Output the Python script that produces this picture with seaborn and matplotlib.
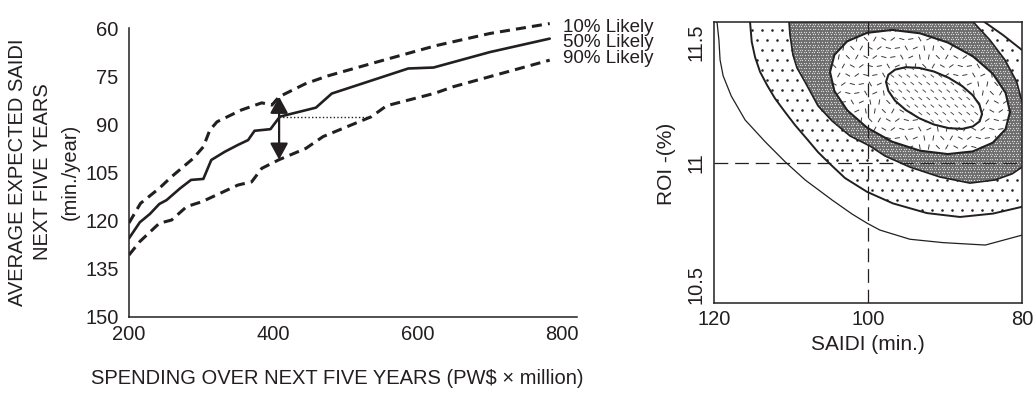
import numpy as np
import matplotlib
matplotlib.use("Agg")
import matplotlib.pyplot as plt
import seaborn as sns
from matplotlib.patches import Polygon
from matplotlib.collections import LineCollection
from matplotlib.transforms import Affine2D

# ---------------- Left panel: expected SAIDI versus spending ----------------
spend_10 = [200, 216, 242, 259, 289, 303, 312, 322, 356, 384, 398, 408, 444, 474, 548, 625, 700, 783]
saidi_10 = [120.7, 114.6, 109.9, 106.3, 100.6, 97.0, 91.8, 89.2, 85.5, 83.3, 84.0, 81.4, 77.4, 75.0, 70.3, 65.5, 61.7, 58.6]

spend_50 = [200, 215, 229, 242, 252, 271, 286, 303, 314, 333, 351, 365, 374, 396, 409, 459, 481, 587, 622, 700, 783]
saidi_50 = [125.5, 120.5, 117.9, 114.8, 113.6, 109.9, 107.3, 107.0, 101.1, 98.5, 96.4, 94.9, 92.0, 91.5, 87.6, 84.8, 80.4, 72.6, 72.3, 67.5, 63.3]

spend_90 = [200, 215, 242, 259, 280, 301, 351, 370, 384, 408, 445, 469, 536, 557, 624, 649, 783]
saidi_90 = [130.7, 126.5, 120.8, 119.8, 115.6, 114.1, 108.9, 107.9, 103.7, 101.0, 97.5, 93.8, 87.6, 84.2, 80.3, 78.3, 70.0]

likely_labels = ["10% Likely", "50% Likely", "90% Likely"]
likely_label_y = [61.15, 65.8, 71.0]
label_x = 801

spend_ticks = [200, 400, 600, 800]
saidi_ticks = [60, 75, 90, 105, 120, 135, 150]

# spread between the 10% and 90% curves at one spending level
arrow_spend = 408
arrow_top, arrow_bottom = 81.4, 101.0
# equal-SAIDI guide from the 50% curve over to the 90% curve
guide_level = 87.6
guide_end = 536

# ---------------- Right panel: ROI / SAIDI probability contours ----------------
saidi_range = (120, 80)
roi_range = (10.4215, 11.584)
roi_ticks = [10.5, 11, 11.5]
roi_tick_labels = ["10.5", "11", "11.5"]
saidi_ticks_r = [120, 100, 80]
target_saidi = 100
target_roi = 11.0

# outermost contour (open line)
cA_saidi = [119.7, 119.65, 119.4, 119.25, 118.85, 117.8, 116.0, 113.4, 110.8, 108.2, 104.7, 102.1, 100.2, 98.5, 94.6, 90.3, 84.8, 79.8]
cA_roi = [11.61, 11.584, 11.508, 11.426, 11.36, 11.277, 11.178, 11.088, 11.005, 10.93, 10.847, 10.789, 10.752, 10.723, 10.685, 10.671, 10.661, 10.704]

# dotted band outer boundary
cB_saidi = [115.49, 115.36, 115.14, 114.71, 114.06, 113.15, 112.12, 110.82, 109.52, 107.96, 106.53, 104.97, 103.03, 100.17,
            96.79, 92.38, 88.09, 83.81, 80.04, 77.70, 77.70, 80.04, 82.51, 84.97, 86.14]
cB_roi = [11.632, 11.584, 11.501, 11.438, 11.377, 11.322, 11.267, 11.211, 11.157, 11.099, 11.045, 10.996, 10.938, 10.881,
          10.833, 10.793, 10.777, 10.791, 10.819, 10.888, 11.550, 11.467, 11.529, 11.584, 11.632]

# shaded band outer boundary
cC_saidi = [110.43, 110.30, 110.17, 109.78, 109.26, 108.22, 106.53, 104.71, 102.38, 99.78, 97.83, 94.58, 90.68, 86.79,
            83.54, 81.33, 80.04, 77.70, 77.70, 80.04, 80.73, 82.25, 84.20, 86.40, 87.44]
cC_roi = [11.632, 11.584, 11.529, 11.446, 11.393, 11.335, 11.236, 11.174, 11.112, 11.070, 11.029, 10.983, 10.942, 10.917,
          10.930, 10.955, 10.983, 11.054, 11.302, 11.253, 11.336, 11.426, 11.508, 11.584, 11.632]

# inner ellipse-like contours
cD_saidi = [81.60, 82.17, 83.83, 86.42, 89.68, 93.29, 96.90, 100.16, 102.74, 104.40, 104.97, 104.40, 102.74, 100.16,
            96.90, 93.29, 89.68, 86.42, 83.83, 82.17]
cD_roi = [11.211, 11.140, 11.084, 11.048, 11.037, 11.051, 11.088, 11.146, 11.218, 11.297, 11.376, 11.447, 11.503, 11.538,
          11.550, 11.536, 11.498, 11.441, 11.369, 11.290]

cE_saidi = [85.23, 85.55, 86.43, 87.81, 89.55, 91.47, 93.39, 95.13, 96.51, 97.39, 97.70, 97.39, 96.51, 95.13,
            93.39, 91.47, 89.55, 87.81, 86.43, 85.55]
cE_roi = [11.202, 11.172, 11.151, 11.141, 11.144, 11.159, 11.185, 11.219, 11.257, 11.298, 11.335, 11.365, 11.386, 11.396,
          11.393, 11.378, 11.352, 11.318, 11.280, 11.240]

# ---------------------------------------------------------------------------
ink = "#231f20"
sns.set_style("white")
plt.rcParams["font.family"] = ["Liberation Sans", "DejaVu Sans"]
plt.rcParams["text.color"] = ink
plt.rcParams["xtick.color"] = ink
plt.rcParams["ytick.color"] = ink

W, H = 1036, 393
fig = plt.figure(figsize=(W / 100, H / 100), dpi=100)

# ---- left panel ----
ax1 = fig.add_axes([129 / W, 76 / H, 448 / W, (317 - 18.4) / H])
dash = (0, (3.3, 2.0))
sns.lineplot(x=spend_10, y=saidi_10, ax=ax1, color=ink, lw=2.2, linestyle=dash, estimator=None)
sns.lineplot(x=spend_50, y=saidi_50, ax=ax1, color=ink, lw=1.9, estimator=None)
sns.lineplot(x=spend_90, y=saidi_90, ax=ax1, color=ink, lw=2.2, linestyle=dash, estimator=None)

ax1.plot([arrow_spend, guide_end], [guide_level, guide_level], color=ink, lw=1.0, linestyle=(0, (1, 1.6)))
ax1.annotate("", xy=(arrow_spend, arrow_top), xytext=(arrow_spend, arrow_bottom),
             arrowprops=dict(arrowstyle="<|-|>,head_length=0.55,head_width=0.3", lw=1.6, color=ink,
                             mutation_scale=18, shrinkA=0, shrinkB=0))

for txt, yv in zip(likely_labels, likely_label_y):
    ax1.text(label_x, yv, txt, fontsize=13.5, va="baseline", ha="left", clip_on=False)

ax1.set_xlim(200, 820.8)
ax1.set_ylim(150, 57)
ax1.set_xticks(spend_ticks)
ax1.set_yticks(saidi_ticks)
ax1.tick_params(axis="both", length=0, labelsize=14.5)
ax1.tick_params(axis="y", pad=7.5)
ax1.tick_params(axis="x", pad=6)
sns.despine(ax=ax1)
ax1.spines["left"].set_bounds(60, 150)
for s in ("left", "bottom"):
    ax1.spines[s].set_linewidth(1.1)
    ax1.spines[s].set_color(ink)
ax1.set_xlabel("")
ax1.set_ylabel("")

fig.text(337 / W, 1 - 379 / H, "SPENDING OVER NEXT FIVE YEARS (PW$ \u00d7 million)",
         ha="center", va="center", fontsize=14.5)
for xc, line in zip([18, 43, 70], ["AVERAGE EXPECTED SAIDI", "NEXT FIVE YEARS", "(min./year)"]):
    fig.text(xc / W, 1 - 172 / H, line, rotation=90, ha="center", va="center", fontsize=14.5)

# ---- right panel ----
ax_w, ax_h = 308.0, 281.3
ax2 = fig.add_axes([714.3 / W, (H - 303) / H, ax_w / W, ax_h / H])
ax2.set_xlim(*saidi_range)
ax2.set_ylim(*roi_range)

px_axes = Affine2D().scale(1 / ax_w, 1 / ax_h) + ax2.transAxes


def region(xs, ys, face, z):
    p = Polygon(np.column_stack([xs, ys]), closed=True, facecolor=face, edgecolor="none", zorder=z)
    ax2.add_patch(p)
    return p


def dot_grid(step, off_x, stagger):
    pts = []
    for k, yy in enumerate(np.arange(off_x, ax_h, step)):
        off = stagger if k % 2 else 0.0
        for xx in np.arange(off_x + off, ax_w, step):
            pts.append((xx, yy))
    return np.array(pts)


pB = region(cB_saidi, cB_roi, "white", 1.0)

# dotted texture
dot_pts = dot_grid(10.0, 3.0, 5.0)
dots = ax2.scatter(dot_pts[:, 0], dot_pts[:, 1], s=3.4, color=ink, linewidths=0,
                   transform=px_axes, zorder=1.1)
dots.set_clip_path(pB)

# stippled band: dark base with fine light speckle
pC = region(cC_saidi, cC_roi, "#6c6c6c", 1.2)
speck_pts = dot_grid(2.6, 1.0, 1.3)
speck = ax2.scatter(speck_pts[:, 0], speck_pts[:, 1], s=0.9, color="#d8d8d8", linewidths=0,
                    transform=px_axes, zorder=1.3)
speck.set_clip_path(pC)

pD = region(cD_saidi, cD_roi, "white", 1.4)

# short dashes of varying direction
angles = np.deg2rad([35, 120, 80, 150, 10, 100, 60, 165, 25, 135])
segs = []
for i, yy in enumerate(np.arange(3, ax_h, 9.0)):
    for j, xx in enumerate(np.arange(3 + (4.5 if i % 2 else 0), ax_w, 9.0)):
        a = angles[(3 * i + 7 * j) % len(angles)]
        dx, dy = 2.6 * np.cos(a), 2.6 * np.sin(a)
        segs.append([(xx - dx, yy - dy), (xx + dx, yy + dy)])
dash_lc = LineCollection(segs, colors="#3a3a3a", linewidths=0.7, transform=px_axes, zorder=1.5)
ax2.add_collection(dash_lc)
dash_lc.set_clip_path(pD)

pE = region(cE_saidi, cE_roi, "white", 1.6)
segs_e = []
a = np.deg2rad(-40)
for i, yy in enumerate(np.arange(2, ax_h, 7.5)):
    for j, xx in enumerate(np.arange(2 + (4.0 if i % 2 else 0), ax_w, 8.0)):
        dx, dy = 2.2 * np.cos(a), 2.2 * np.sin(a)
        segs_e.append([(xx - dx, yy - dy), (xx + dx, yy + dy)])
e_lc = LineCollection(segs_e, colors="#4a4a4a", linewidths=0.65, transform=px_axes, zorder=1.7)
ax2.add_collection(e_lc)
e_lc.set_clip_path(pE)

# contour outlines
ax2.plot(cA_saidi, cA_roi, color=ink, lw=0.9, zorder=2)
ax2.plot(cB_saidi + cB_saidi[:1], cB_roi + cB_roi[:1], color=ink, lw=1.4, zorder=2)
ax2.plot(cC_saidi + cC_saidi[:1], cC_roi + cC_roi[:1], color=ink, lw=1.2, zorder=2)
ax2.plot(cD_saidi + cD_saidi[:1], cD_roi + cD_roi[:1], color=ink, lw=1.5, zorder=2)
ax2.plot(cE_saidi + cE_saidi[:1], cE_roi + cE_roi[:1], color=ink, lw=1.5, zorder=2)

# target crosshair
cross = (0, (11, 5.5))
ax2.axvline(target_saidi, color=ink, lw=0.9, linestyle=cross, zorder=2.5)
ax2.axhline(target_roi, color=ink, lw=0.9, linestyle=cross, zorder=2.5)

ax2.set_xticks(saidi_ticks_r)
ax2.set_yticks(roi_ticks)
ax2.set_yticklabels(roi_tick_labels, rotation=90, va="center")
ax2.tick_params(axis="both", length=0, labelsize=14.5)
ax2.tick_params(axis="y", pad=6)
ax2.tick_params(axis="x", pad=5)
for s in ax2.spines.values():
    s.set_visible(True)
    s.set_linewidth(1.1)
    s.set_color(ink)
    s.set_zorder(3)

fig.text(868 / W, 1 - 344 / H, "SAIDI (min.)", ha="center", va="center", fontsize=15)
fig.text(666 / W, 1 - 164 / H, "ROI -(%)", rotation=90, ha="center", va="center", fontsize=15)

fig.savefig("out.png", dpi=100)
